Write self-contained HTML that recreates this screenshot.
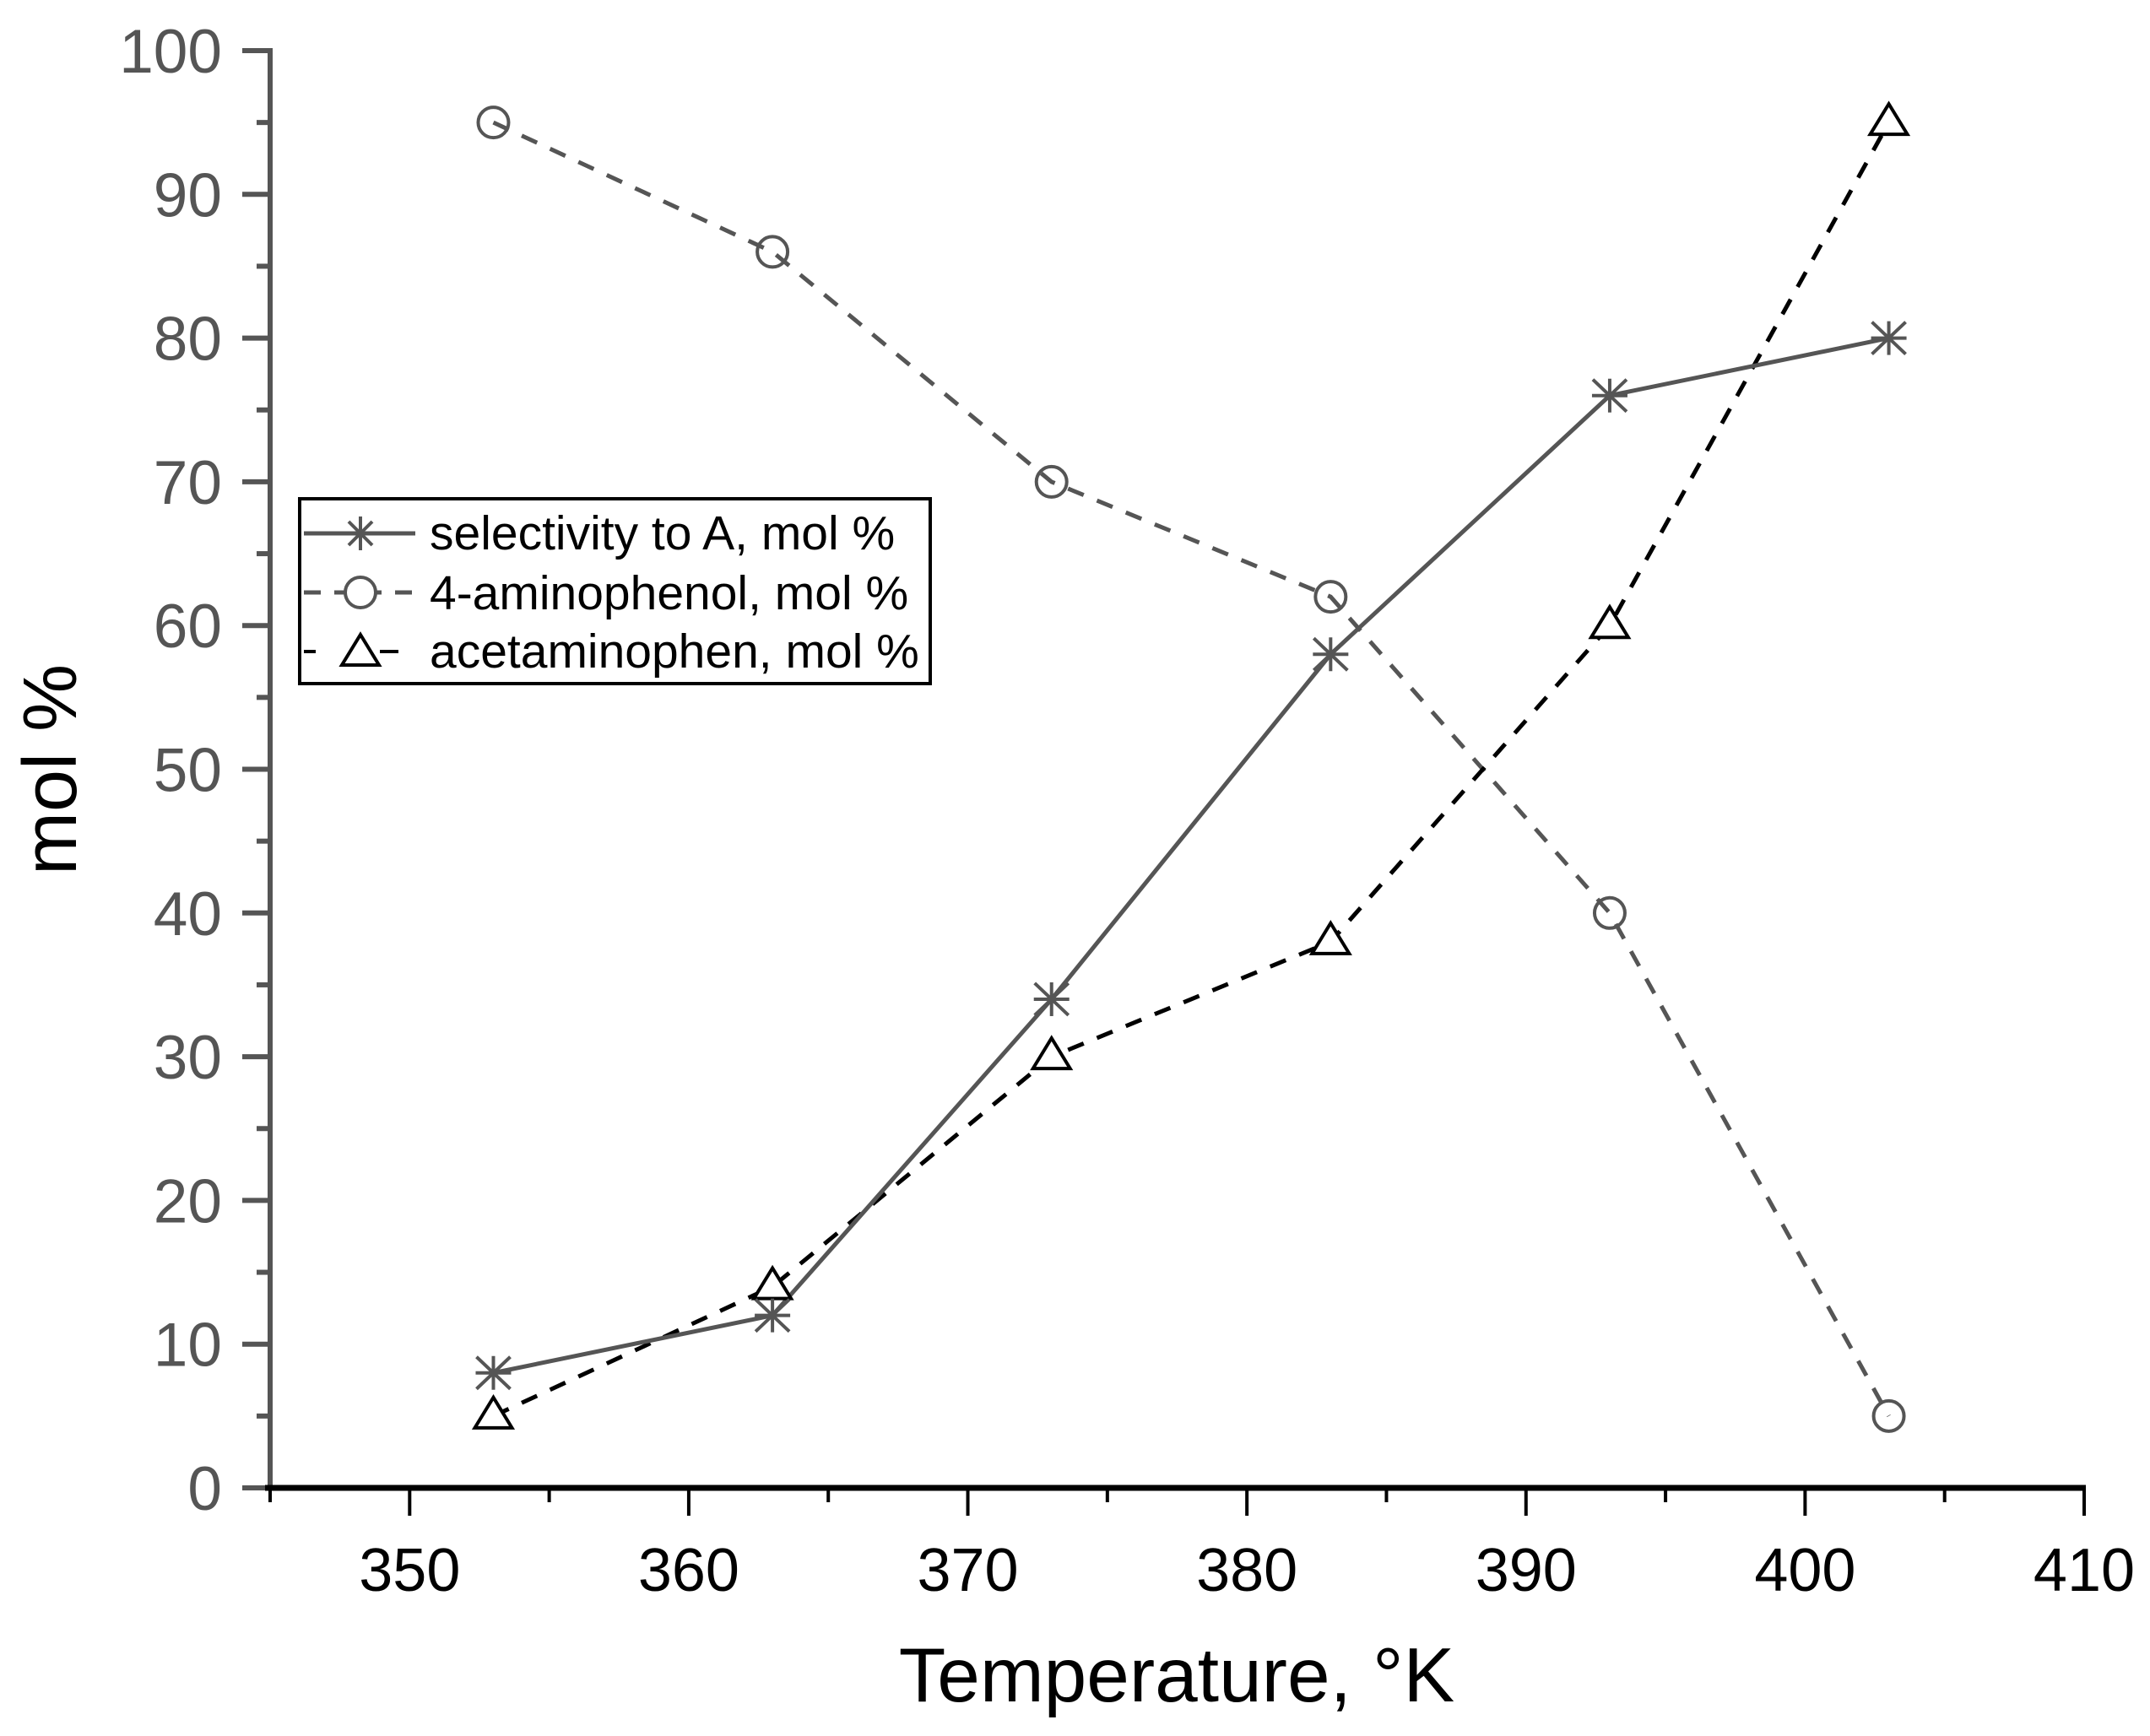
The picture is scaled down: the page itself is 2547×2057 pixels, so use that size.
<!DOCTYPE html>
<html><head><meta charset="utf-8"><style>
html,body{margin:0;padding:0;background:#fff;}
svg{display:block;font-family:"Liberation Sans",Arial,sans-serif;}
</style></head><body>
<svg id="chart" width="2547" height="2057" viewBox="0 0 2547 2057" xmlns="http://www.w3.org/2000/svg">
<g id="axes"></g>
<g id="series"></g>
<text x="1394" y="2016" font-size="91" text-anchor="middle" fill="#000">Temperature, °K</text>
<text x="0" y="0" font-size="90" text-anchor="middle" fill="#000" transform="translate(90,912) rotate(-90)">mol %</text>
<g>
<rect x="355" y="591" width="747" height="219" fill="#fff" stroke="#000" stroke-width="4"/>
<g>
<line x1="360" y1="632" x2="492" y2="632" stroke="#555" stroke-width="5"/>
<g stroke="#555" stroke-width="4"><line x1="407" y1="632" x2="447" y2="632"/><line x1="427" y1="612" x2="427" y2="652"/><line x1="413" y1="618" x2="441" y2="646"/><line x1="441" y1="618" x2="413" y2="646"/></g>
<text x="509" y="651" font-size="57" fill="#000">selectivity to A, mol %</text></g>
<g>
<line x1="360" y1="702" x2="500" y2="702" stroke="#555" stroke-width="5" stroke-dasharray="20,16"/>
<circle cx="427" cy="702" r="18" fill="#fff" stroke="#555" stroke-width="4"/>
<text x="509" y="722" font-size="57" fill="#000">4-aminophenol, mol %</text></g>
<g>
<line x1="360" y1="772" x2="374" y2="772" stroke="#000" stroke-width="4"/>
<line x1="450" y1="772" x2="472" y2="772" stroke="#000" stroke-width="4"/>
<polygon points="427,752 449,788 405,788" fill="#fff" stroke="#000" stroke-width="4"/>
<text x="509" y="791" font-size="57" fill="#000">acetaminophen, mol %</text></g>
</g>
</svg>
<script>
const temps = [353, 363, 373, 383, 393, 403];
const selectivity = [8, 12, 34, 58, 76, 80];
const aminophenol = [95, 86, 70, 62, 40, 5];
const acetaminophen = [5, 14, 30, 38, 60, 95];
const xTickLabels = ["350","360","370","380","390","400","410"];
const yTickLabels = ["0","10","20","30","40","50","60","70","80","90","100"];

const NS="http://www.w3.org/2000/svg";
const X0=320, X1=2469, Y0=1763, Y1=60, XMIN=345, XMAX=410;
function xs(v){return X0+(v-XMIN)/(XMAX-XMIN)*(X1-X0);}
function ys(v){return Y0-(v/100)*(Y0-Y1);}
function mk(tag,attrs,parent){const e=document.createElementNS(NS,tag);for(const k in attrs)e.setAttribute(k,attrs[k]);parent.appendChild(e);return e;}
const axes=document.getElementById('axes'), ser=document.getElementById('series');

let ya=mk('line',{x1:X0,y1:Y1-3,x2:X0,y2:Y0,stroke:'#555','stroke-width':6},axes);


for(let v=0;v<=100;v+=5){
  const major=v%10===0;
  let t=mk('line',{x1:X0-(major?33:16),y1:ys(v),x2:X0,y2:ys(v),stroke:'#555','stroke-width':6},axes);
  
  
}
yTickLabels.forEach(l=>{
  let t=mk('text',{x:263,y:ys(+l)+26,'font-size':73,'text-anchor':'end',fill:'#555'},axes);
  t.textContent=l;
  
  
});
let xa=mk('line',{x1:X0-6,y1:Y0,x2:X1+2,y2:Y0,stroke:'#000','stroke-width':7},axes);


for(let v=345;v<=410;v+=5){
  const major=v%10===0;
  let t=mk('line',{x1:xs(v),y1:Y0,x2:xs(v),y2:Y0+(major?33:17),stroke:'#000','stroke-width':4},axes);
  
  
}
xTickLabels.forEach(l=>{
  let t=mk('text',{x:xs(+l),y:1885,'font-size':72,'text-anchor':'middle',fill:'#000'},axes);
  t.textContent=l;
  
  
});

function path(vals,color,dash,name){
  const d=vals.map((v,i)=>(i?'L':'M')+xs(temps[i])+','+ys(v)).join(' ');
  let p=mk('path',{d:d,fill:'none',stroke:color,'stroke-width':5},ser);
  if(dash)p.setAttribute('stroke-dasharray',dash);
  
  
}
path(aminophenol,'#555','20,17','aminophenol-line');
path(acetaminophen,'#000','20,17','acetaminophen-line');
path(selectivity,'#555',null,'selectivity-line');

aminophenol.forEach((v,i)=>{
  let c=mk('circle',{cx:xs(temps[i]),cy:ys(v),r:18,fill:'none',stroke:'#555','stroke-width':4},ser);
  
  
});
acetaminophen.forEach((v,i)=>{
  const x=xs(temps[i]),y=ys(v);
  let p=mk('polygon',{points:`${x},${y-22} ${x+22},${y+14} ${x-22},${y+14}`,fill:'#fff',stroke:'#000','stroke-width':4},ser);
  
  
});
selectivity.forEach((v,i)=>{
  const x=xs(temps[i]),y=ys(v);
  let g=mk('g',{stroke:'#555','stroke-width':4},ser);
  
  
  mk('line',{x1:x-21,y1:y,x2:x+21,y2:y},g);
  mk('line',{x1:x,y1:y-20,x2:x,y2:y+20},g);
  mk('line',{x1:x-20,y1:y-19,x2:x+20,y2:y+19},g);
  mk('line',{x1:x+20,y1:y-19,x2:x-20,y2:y+19},g);
});
</script>
</body></html>
